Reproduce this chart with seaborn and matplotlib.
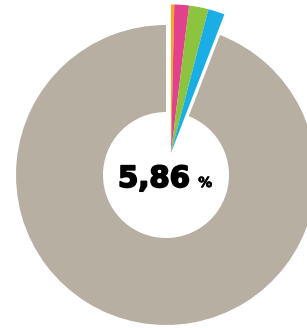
import matplotlib
matplotlib.use("Agg")
import matplotlib.pyplot as plt
import matplotlib.patheffects as pe
import seaborn as sns

# data
share_label = "5,86"
share_unit = "%"
rest_value = 94.14
part_labels = ["orange", "rose", "vert", "bleu"]
part_values = [0.36, 1.6, 2.1, 1.8]
part_colors = ["#F7A81B", "#E2428C", "#8CC43F", "#1BAEE5"]
rest_color = "#B8AFA3"

sns.set_theme(style="white")

fig = plt.figure(figsize=(3.07, 3.28), dpi=100)
ax = fig.add_axes([0, 0, 1, 1])

total_parts = sum(part_values)
# gray ring (rest) plus invisible placeholder for the parts
ax.pie([total_parts, rest_value], colors=["none", rest_color], startangle=90,
       counterclock=False, radius=1.0,
       wedgeprops=dict(width=0.58, linewidth=0))

# exploded colored wedges (full pie wedges)
ax.pie(part_values + [rest_value], colors=part_colors + ["none"], startangle=90,
       counterclock=False, radius=0.99, center=(0.033, 0.147),
       wedgeprops=dict(linewidth=0))

heavy = [pe.withStroke(linewidth=1.3, foreground="black")]
ax.text(-0.32, -0.08, share_label, ha="left", va="baseline",
        fontsize=21, fontweight="bold", family="DejaVu Sans", color="black",
        path_effects=heavy)
ax.text(0.215, -0.08, share_unit, ha="left", va="baseline",
        fontsize=10, fontweight="bold", family="DejaVu Sans", color="black",
        path_effects=[pe.withStroke(linewidth=0.6, foreground="black")])

ax.set_xlim(-166 / 150, 141 / 150)
ax.set_ylim(-153 / 150, 175 / 150)
ax.set_aspect("equal")
ax.axis("off")
fig.savefig("out.png", dpi=100, facecolor="white")
